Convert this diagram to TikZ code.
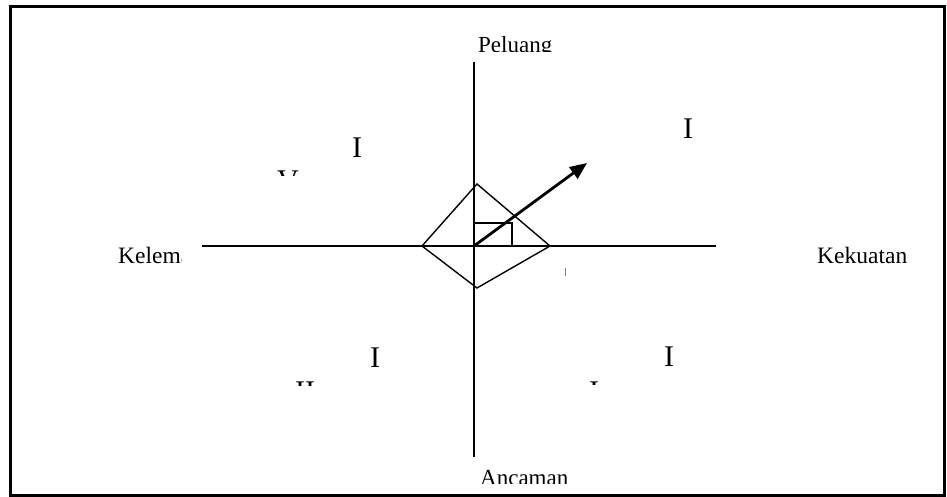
\documentclass[tikz,border=0pt]{standalone}
\usepackage{fontspec}
\setmainfont{Liberation Serif}
\usetikzlibrary{arrows.meta}

\begin{document}
\begin{tikzpicture}[x=1pt,y=-1pt,-,>={Triangle[length=17pt,width=14pt]},
  axis/.style={line width=1.7pt},
  lbl/.style={anchor=base west,inner sep=0pt,font=\fontsize{23}{26}\selectfont},
  quad/.style={anchor=base west,inner sep=0pt,font=\fontsize{30}{34}\selectfont}]
\useasboundingbox (0,0) rectangle (947,497);
\draw[line width=3pt] (10,7) rectangle (944,495);
% axes
\coordinate (W) at (202,246);
\coordinate (E) at (716,246);
\coordinate (N) at (474,62);
\coordinate (S) at (474,457);
\coordinate (O) at (474,246);
\draw[axis] (W) -- (E);
\draw[axis] (N) -- (S);
% diamond
\coordinate (dT) at (477,184);
\coordinate (dL) at (422,246);
\coordinate (dR) at (550,246);
\coordinate (dB) at (477,288);
\draw[line width=1.4pt] (dT) -- (dR) -- (dB) -- (dL) -- cycle;
\coordinate (rA) at (474,223);
\coordinate (rB) at (512,223);
\coordinate (rC) at (512,246);
\draw[line width=1.4pt] (rA) -- (rB) -- (rC);
\coordinate (tip) at (587,163);
\draw[->,line width=2.8pt] (O) -- (tip);
% axis labels (cut off as in the source)
\begin{scope}
  \clip (470,30) rectangle (570,52);
  \node[lbl] (peluang) at (478,53) {Peluang};
\end{scope}
\begin{scope}
  \clip (470,460) rectangle (580,483);
  \node[lbl] (ancaman) at (480,485) {Ancaman};
\end{scope}
\begin{scope}
  \clip (110,235) rectangle (181,264);
  \node[lbl,font=\fontsize{23.5}{26}\selectfont] (kelem) at (118,263) {Kelemahan};
\end{scope}
\begin{scope}
  \clip (810,235) rectangle (920,264);
  \node[lbl,font=\fontsize{23.5}{26}\selectfont] (kekuatan) at (817,263) {Kekuatan};
\end{scope}
% quadrants
\node[quad] (q1a) at (352,158) {I};
\node[quad] (q2a) at (683,139) {I};
\node[quad] (q3a) at (370,367) {I};
\node[quad] (q4a) at (664,366) {I};
\begin{scope}
  \clip (270,168) rectangle (310,176);
  \node[quad] (q1b) at (277,190) {V};
\end{scope}
\begin{scope}
  \clip (290,378) rectangle (330,385);
  \node[quad] (q3b) at (295,401) {II};
\end{scope}
\begin{scope}
  \clip (580,378) rectangle (610,384);
  \node[quad] (q4b) at (589,401) {I};
\end{scope}
\coordinate (mk1) at (565,268);
\coordinate (mk2) at (565,276);
\draw[gray,line width=0.8pt] (mk1) -- (mk2);
\end{tikzpicture}
\end{document}
